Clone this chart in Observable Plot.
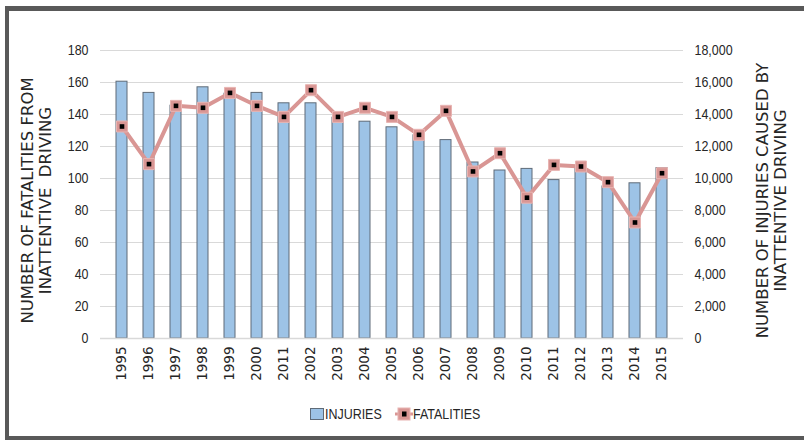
<!DOCTYPE html>
<html>
<head>
<meta charset="utf-8">
<script src="https://cdn.jsdelivr.net/npm/d3@7"></script>
<script src="https://cdn.jsdelivr.net/npm/@observablehq/plot@0.6"></script>
<style>
  html, body { margin: 0; padding: 0; background: #fff; }
  #wrap { position: relative; width: 804px; height: 441px; overflow: hidden; }
  #frame { position: absolute; left: 5px; top: 6px; width: 820px; height: 425px;
           border-left: 4px solid #595959; border-top: 5px solid #595959; border-bottom: 4px solid #595959; }
  .leg { position: absolute; font-family: 'Liberation Sans Narrow', 'Arial Narrow', 'Liberation Sans', sans-serif; font-size: 15px; color: #262626; line-height: 16px; }
  .narrow { transform: scaleX(0.83); transform-origin: 0 50%; white-space: nowrap; }
</style>
</head>
<body>
<div id="wrap">
  <div id="frame"></div>
  <div id="chart" style="position:absolute;left:0;top:0;"></div>
  <div class="leg" style="left:310px;top:408px;width:12px;height:10px;background:#9dc3e6;border:1px solid #5f6b78;"></div>
  <div class="leg narrow" style="left:325px;top:406px;">INJURIES</div>
  <svg class="leg" style="left:394px;top:407px;" width="20" height="14">
    <line x1="1" y1="7" x2="19" y2="7" stroke="#d99694" stroke-width="3"></line>
    <rect x="4" y="1" width="12" height="12" fill="#d99694" stroke="#e8b4b2" stroke-width="1"></rect>
    <rect x="8" y="4.5" width="4.5" height="5" fill="#000"></rect>
  </svg>
  <div class="leg narrow" style="left:413px;top:406px;">FATALITIES</div>
</div>
<script>
const years = ["1995","1996","1997","1998","1999","2000","2011","2002","2003","2004","2005","2006","2007","2008","2009","2010","2011","2012","2013","2014","2015"];
const injuries = [16050,15350,14550,15700,15300,15350,14700,14700,13800,13550,13200,12700,12400,11000,10500,10600,9900,10700,9500,9700,10650];
const fatalities = [132.5,109,145.4,144.2,153.5,145.4,138.5,155.2,138.5,144.2,138.5,127.3,142.3,104.4,115.8,88,108.5,107.5,97.7,72.5,103.3];
const leftTicks = [0,20,40,60,80,100,120,140,160,180];
const leftTitle = "NUMBER OF FATALITIES FROM\nINATTENTIVE\u00A0 DRIVING";
const rightTitle = "NUMBER OF INJURIES CAUSED BY\nINATTENTIVE DRIVING";

const data = years.map((y, i) => ({i, year: y, injuries: injuries[i], fatalities: fatalities[i]}));

const chart = Plot.plot({
  width: 804,
  height: 395,
  marginLeft: 100,
  marginRight: 121,
  marginTop: 50,
  marginBottom: 57,
  style: {fontFamily: "'Liberation Sans Narrow', 'Arial Narrow', 'Liberation Sans', sans-serif", fontSize: "15px", color: "#262626", background: "transparent"},
  x: {type: "band", domain: d3.range(years.length), paddingInner: 0.6, paddingOuter: 0.3},
  y: {domain: [0, 180]},
  marks: [
    Plot.gridY(leftTicks, {stroke: "#d9d9d9", strokeOpacity: 1}),
    Plot.barY(data, {x: "i", y: d => d.injuries / 100, fill: "#9dc3e6", stroke: "#5f6b78", strokeWidth: 1}),
    Plot.ruleY([0], {stroke: "#d9d9d9", strokeWidth: 1.5}),
    Plot.line(data, {x: "i", y: "fatalities", stroke: "#d99694", strokeWidth: 4}),
    Plot.dot(data, {x: "i", y: "fatalities", symbol: "square", r: 6.2, fill: "#d99694", stroke: "#e8b4b2", strokeWidth: 1}),
    Plot.dot(data, {x: "i", y: "fatalities", symbol: "square", r: 2.6, fill: "#000"}),
    Plot.axisY(leftTicks, {anchor: "left", tickSize: 0, tickPadding: 12, label: null}),
    Plot.axisY(leftTicks, {anchor: "right", tickSize: 0, tickPadding: 11, label: null, tickFormat: d => d3.format(",")(d * 100)}),
    Plot.axisX({tickSize: 0, tickPadding: 8, tickRotate: -90, label: null, tickFormat: i => years[i], fontFamily: "DejaVu Sans", fontSize: 13.5}),
    Plot.text([leftTitle], {frameAnchor: "left", textAnchor: "middle", lineAnchor: "middle", dx: -64, dy: 6, rotate: -90, lineHeight: 1.08, fontFamily: "DejaVu Sans", fontSize: 16.5, fill: "#262626"}),
    Plot.text([rightTitle], {frameAnchor: "right", textAnchor: "middle", lineAnchor: "middle", dx: 88, dy: 6, rotate: -90, lineHeight: 1.08, fontFamily: "DejaVu Sans", fontSize: 16.5, fill: "#262626"})
  ]
});
document.getElementById("chart").appendChild(chart);

// Emulate the narrow (Calibri-like) face of the y tick labels
d3.select(chart).selectAll('g[aria-label="y-axis tick label"] text').each(function() {
  const w = this.getComputedTextLength();
  if (w > 0) {
    this.setAttribute("textLength", (w * 0.83).toFixed(2));
    this.setAttribute("lengthAdjust", "spacingAndGlyphs");
  }
});
</script>
</body>
</html>
